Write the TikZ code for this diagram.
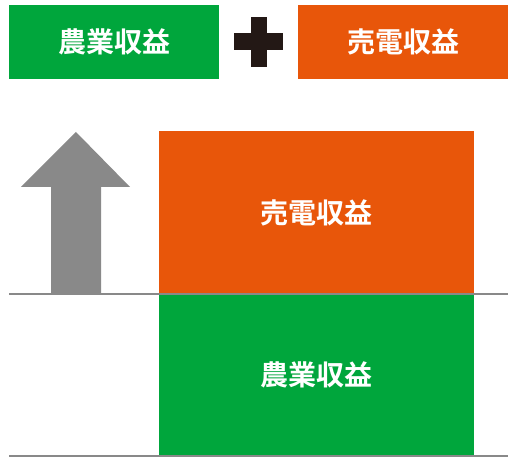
\documentclass[tikz,border=0pt]{standalone}
\usepackage{fontspec}
\newfontfamily\cjk{Noto Sans CJK JP Bold}
\definecolor{agri}{HTML}{00A63C}
\definecolor{solar}{HTML}{E8560A}
\definecolor{plusc}{HTML}{231815}
\definecolor{rule}{HTML}{898989}
\begin{document}
\begin{tikzpicture}[x=1pt,y=-1pt,
  box/.style={fill=#1,draw=none,inner sep=0pt,text=white,font=\cjk\fontsize{28}{30}\selectfont},
  baseline/.style={draw=rule,line width=2pt}]
\useasboundingbox (0,0) rectangle (509,465);
% top legend
\node[box=agri,minimum width=210pt,minimum height=74pt] (legA) at (114,42) {農業収益};
\node[box=solar,minimum width=210pt,minimum height=74pt] (legS) at (403,42) {売電収益};
\fill[plusc] (251,17) rectangle (267,67);
\fill[plusc] (234,33) rectangle (283,50);
% stacked bars
\node[box=solar,minimum width=315pt,minimum height=163pt] (barS) at (316.5,212.5) {売電収益};
\node[box=agri,minimum width=315pt,minimum height=161pt] (barA) at (316.5,375) {農業収益};
% base lines
\coordinate (l1a) at (9,294.5);
\coordinate (l1b) at (508,294.5);
\coordinate (l2a) at (9,456);
\coordinate (l2b) at (508,456);
% arrow
\fill[rule] (51,294) -- (51,187) -- (21,187) -- (76,132) -- (130,187) -- (101,187) -- (101,294) -- cycle;
\draw[baseline] (l1a) -- (l1b);
\draw[baseline] (l2a) -- (l2b);
\end{tikzpicture}
\end{document}
